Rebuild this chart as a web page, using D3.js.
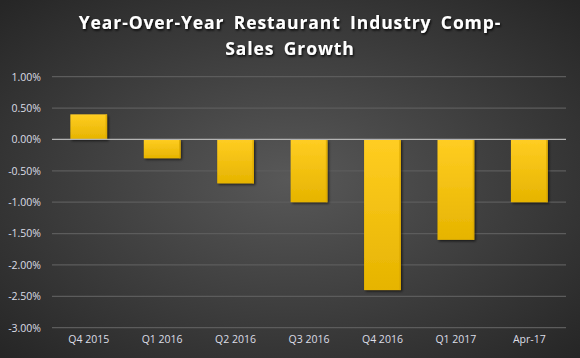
<!DOCTYPE html>
<html><head><meta charset="utf-8">
<script src="https://cdn.jsdelivr.net/npm/d3@7"></script>
<style>html,body{margin:0;padding:0;background:#333;}svg{display:block;}</style>
</head><body>
<script>
const categories = ["Q4 2015","Q1 2016","Q2 2016","Q3 2016","Q4 2016","Q1 2017","Apr-17"];
const values = [0.40, -0.30, -0.70, -1.00, -2.40, -1.60, -1.00];
const yTicks = [1.0, 0.5, 0.0, -0.5, -1.0, -1.5, -2.0, -2.5, -3.0];
const titleLines = ["Year-Over-Year Restaurant Industry Comp-", "Sales Growth"];

const W = 580, H = 358;
const svg = d3.select("body").append("svg").attr("width", W).attr("height", H);
const defs = svg.append("defs");
const bg = defs.append("radialGradient").attr("id","bg").attr("cx","50%").attr("cy","50%").attr("r","70%");
bg.append("stop").attr("offset","0%").attr("stop-color","#585858");
bg.append("stop").attr("offset","100%").attr("stop-color","#262626");
const bar = defs.append("linearGradient").attr("id","bar").attr("x1",0).attr("y1",0).attr("x2",0).attr("y2",1);
bar.append("stop").attr("offset","0%").attr("stop-color","#ffcd22");
bar.append("stop").attr("offset","100%").attr("stop-color","#e6b400");
const sh = defs.append("filter").attr("id","sh").attr("x","-20%").attr("y","-20%").attr("width","150%").attr("height","150%");
sh.append("feDropShadow").attr("dx",1.5).attr("dy",1.5).attr("stdDeviation",1.2).attr("flood-color","#000").attr("flood-opacity",0.6);
const tsh = defs.append("filter").attr("id","tsh");
tsh.append("feDropShadow").attr("dx",1).attr("dy",1.5).attr("stdDeviation",0.8).attr("flood-color","#000").attr("flood-opacity",0.9);

svg.append("rect").attr("width",W).attr("height",H).attr("fill","url(#bg)");

const m = {left:52, right:14, top:76.7, bottom:30.3};
const x = d3.scaleBand().domain(categories).range([m.left, W - m.right]).paddingInner(0.5).paddingOuter(0.25);
const y = d3.scaleLinear().domain([-3, 1]).range([H - m.bottom, m.top]);

// gridlines
svg.append("g").selectAll("line").data(yTicks.filter(t => t !== 0)).join("line")
  .attr("x1", m.left).attr("x2", W - m.right)
  .attr("y1", d => y(d)).attr("y2", d => y(d))
  .attr("stroke","#5c5c5c").attr("stroke-width",1.2);

// y axis labels
const yAxis = d3.axisLeft(y).tickValues(yTicks).tickFormat(d => d.toFixed(2) + "%").tickSize(0).tickPadding(11);
const ya = svg.append("g").attr("transform", `translate(${m.left},0)`).call(yAxis);
ya.select(".domain").remove();
ya.selectAll("text").attr("fill","#dcdde6").style("font-family","'Open Sans', sans-serif").style("font-size","10.5px");

// bars
const bg2 = svg.append("g");
bg2.selectAll("rect.b").data(values).join("rect").attr("class","b")
  .attr("x", (d,i) => x(categories[i]))
  .attr("width", x.bandwidth())
  .attr("y", d => y(Math.max(0,d)))
  .attr("height", d => Math.abs(y(d) - y(0)))
  .attr("fill","url(#bar)")
  .attr("filter","url(#sh)");
// darker right edge
bg2.selectAll("rect.e").data(values).join("rect").attr("class","e")
  .attr("x", (d,i) => x(categories[i]) + x.bandwidth() - 1.5)
  .attr("width", 1.5)
  .attr("y", d => y(Math.max(0,d)))
  .attr("height", d => Math.abs(y(d) - y(0)))
  .attr("fill","#d9a800").attr("opacity",0.8);

// zero line
svg.append("line").attr("x1", m.left).attr("x2", W - m.right).attr("y1", y(0)).attr("y2", y(0))
  .attr("stroke","#b4b4b4").attr("stroke-width",1.2);

// x axis labels
const xAxis = d3.axisBottom(x).tickSize(0).tickPadding(8);
const xa = svg.append("g").attr("transform", `translate(0,${y(-3)})`).call(xAxis);
xa.select(".domain").remove();
xa.selectAll("text").attr("fill","#dcdde6").style("font-family","'Open Sans', sans-serif").style("font-size","10.5px");

// title
svg.append("text").attr("x", 290).attr("text-anchor","middle")
  .attr("fill","#ffffff").attr("filter","url(#tsh)")
  .style("font-family","'Open Sans', sans-serif").style("font-weight","bold").style("font-size","17.5px")
  .style("letter-spacing","0.9px").style("word-spacing","4px")
  .selectAll("tspan").data(titleLines).join("tspan")
  .attr("x", 290).attr("y", (d,i) => 29 + i*26).text(d => d);
</script>
</body></html>
